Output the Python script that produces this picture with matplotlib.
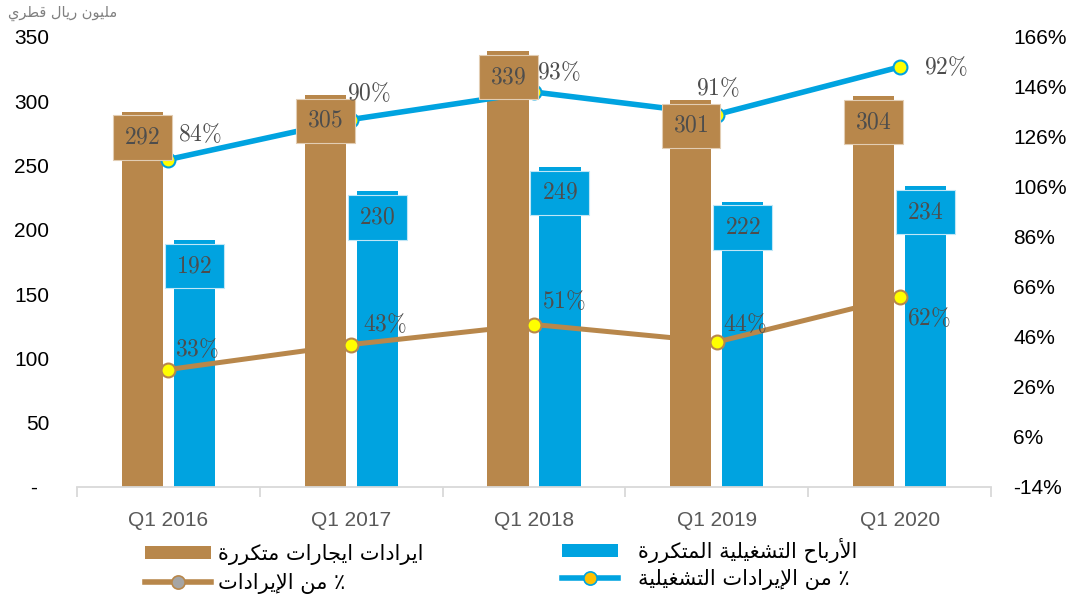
import numpy as np
import matplotlib
matplotlib.use("Agg")
import matplotlib.pyplot as plt
from matplotlib.patches import Patch
from matplotlib.lines import Line2D

plt.rcParams['font.family'] = ['Liberation Sans', 'DejaVu Sans']
plt.rcParams['mathtext.fontset'] = 'cm'

# ---------------- data ----------------
categories = ['Q1 2016', 'Q1 2017', 'Q1 2018', 'Q1 2019', 'Q1 2020']
rental_revenue = [292, 305, 339, 301, 304]          # ايرادات ايجارات متكررة
operating_profit = [192, 230, 249, 222, 234]        # الأرباح التشغيلية المتكررة
pct_of_revenue = [33, 43, 51, 44, 62]               # ٪ من الإيرادات
pct_of_operating_revenue = [84, 90, 93, 91, 92]     # ٪ من الإيرادات التشغيلية (stacked line)

left_ticks = [0, 50, 100, 150, 200, 250, 300, 350]
right_ticks = [-14, 6, 26, 46, 66, 86, 106, 126, 146, 166]

unit_label = 'مليون ريال قطري'
legend_labels = ['ايرادات ايجارات متكررة', '٪ من الإيرادات',
                 'الأرباح التشغيلية المتكررة', '٪ من الإيرادات التشغيلية']

# ---------------- arabic shaping (presentation forms, visual order) ----------------
FORMS = {
    '\u0627': ('\uFE8D', '\uFE8E', None, None),
    '\u0623': ('\uFE83', '\uFE84', None, None),
    '\u0625': ('\uFE87', '\uFE88', None, None),
    '\u0628': ('\uFE8F', '\uFE90', '\uFE91', '\uFE92'),
    '\u0629': ('\uFE93', '\uFE94', None, None),
    '\u062A': ('\uFE95', '\uFE96', '\uFE97', '\uFE98'),
    '\u062C': ('\uFE9D', '\uFE9E', '\uFE9F', '\uFEA0'),
    '\u062D': ('\uFEA1', '\uFEA2', '\uFEA3', '\uFEA4'),
    '\u062F': ('\uFEA9', '\uFEAA', None, None),
    '\u0631': ('\uFEAD', '\uFEAE', None, None),
    '\u0634': ('\uFEB5', '\uFEB6', '\uFEB7', '\uFEB8'),
    '\u0637': ('\uFEC1', '\uFEC2', '\uFEC3', '\uFEC4'),
    '\u063A': ('\uFECD', '\uFECE', '\uFECF', '\uFED0'),
    '\u0642': ('\uFED5', '\uFED6', '\uFED7', '\uFED8'),
    '\u0643': ('\uFED9', '\uFEDA', '\uFEDB', '\uFEDC'),
    '\u0644': ('\uFEDD', '\uFEDE', '\uFEDF', '\uFEE0'),
    '\u0645': ('\uFEE1', '\uFEE2', '\uFEE3', '\uFEE4'),
    '\u0646': ('\uFEE5', '\uFEE6', '\uFEE7', '\uFEE8'),
    '\u0648': ('\uFEED', '\uFEEE', None, None),
    '\u064A': ('\uFEF1', '\uFEF2', '\uFEF3', '\uFEF4'),
}
LAM_ALEF = {'\u0622': ('\uFEF5', '\uFEF6'), '\u0623': ('\uFEF7', '\uFEF8'),
            '\u0625': ('\uFEF9', '\uFEFA'), '\u0627': ('\uFEFB', '\uFEFC')}


def shape(text):
    toks = []
    i = 0
    while i < len(text):
        c = text[i]
        if c == '\u0644' and i + 1 < len(text) and text[i + 1] in LAM_ALEF:
            toks.append(('LA', text[i + 1]))
            i += 2
        else:
            toks.append(('C', c))
            i += 1

    def joins_next(t):
        if t[0] == 'LA':
            return False
        f = FORMS.get(t[1])
        return f is not None and f[2] is not None

    def is_ar(t):
        return t[0] == 'LA' or t[1] in FORMS

    out = []
    for j, t in enumerate(toks):
        prev_ok = j > 0 and joins_next(toks[j - 1]) and is_ar(t)
        if t[0] == 'LA':
            out.append(LAM_ALEF[t[1]][1 if prev_ok else 0])
            continue
        f = FORMS.get(t[1])
        if f is None:
            out.append(t[1])
            continue
        next_ok = f[2] is not None and j + 1 < len(toks) and is_ar(toks[j + 1])
        if prev_ok and next_ok:
            out.append(f[3])
        elif prev_ok:
            out.append(f[1])
        elif next_ok:
            out.append(f[2])
        else:
            out.append(f[0])
    return ''.join(reversed(out))


# ---------------- style ----------------
BROWN = '#B8874B'
BLUE = '#00A3E0'
YELLOW = '#FFFF00'
LABEL_GRAY = '#4D4D4D'
AXIS_GRAY = '#D9D9D9'

W, H = 1066, 600
fig = plt.figure(figsize=(W / 100, H / 100), dpi=100)
ax = fig.add_axes([77 / W, 113 / H, 914 / W, 450 / H])

x = np.arange(len(categories))
bw = 0.225
off = 0.142
ax.bar(x - off, rental_revenue, width=bw, color=BROWN, zorder=1)
ax.bar(x + off, operating_profit, width=bw, color=BLUE, zorder=1)

ax.set_xlim(-0.5, len(categories) - 0.5)
ax.set_ylim(0, 350)
for s in ['top', 'left', 'right']:
    ax.spines[s].set_visible(False)
ax.spines['bottom'].set_color(AXIS_GRAY)
ax.spines['bottom'].set_linewidth(1.3)

ax.set_xticks(np.arange(-0.5, len(categories), 1.0))
ax.set_xticklabels([])
ax.tick_params(axis='x', which='major', length=7, width=1.3, color=AXIS_GRAY)
ax.set_xticks(x, minor=True)
ax.set_xticklabels(categories, minor=True)
ax.tick_params(axis='x', which='minor', length=0, pad=17, labelsize=15, labelcolor='#595959')

ax.set_yticks(left_ticks)
ax.set_yticklabels(['-  ' if v == 0 else str(v) for v in left_ticks])
ax.tick_params(axis='y', length=0, pad=20, labelsize=15, labelcolor='#000000')

ax2 = ax.twinx()
ax2.set_ylim(-14, 166)
ax2.set_yticks(right_ticks)
ax2.set_yticklabels([f'{v}%' for v in right_ticks])
ax2.tick_params(axis='y', length=0, pad=16, labelsize=15, labelcolor='#000000')
for s in ax2.spines.values():
    s.set_visible(False)

stacked = np.add(pct_of_revenue, pct_of_operating_revenue)
ax2.plot(x, pct_of_revenue, color=BROWN, lw=3.6, marker='o', ms=10,
         mfc=YELLOW, mec=BROWN, mew=1.5, zorder=2, solid_capstyle='round')
ax2.plot(x, stacked, color=BLUE, lw=4.0, marker='o', ms=10,
         mfc=YELLOW, mec=BLUE, mew=1.5, zorder=2, solid_capstyle='round')

# bar value labels (boxed, over the lines)
for xi, v in zip(x, rental_revenue):
    ax2.annotate(f'${v}$', xy=(xi - off, v), xycoords=ax.transData,
                 xytext=(0, -26), textcoords='offset pixels', ha='center', va='center',
                 fontsize=17, color=LABEL_GRAY, zorder=5,
                 bbox=dict(boxstyle='square,pad=0.48', fc=BROWN, ec='#E2CDB3', lw=0.8))
for xi, v in zip(x, operating_profit):
    ax2.annotate(f'${v}$', xy=(xi + off, v), xycoords=ax.transData,
                 xytext=(0, -26), textcoords='offset pixels', ha='center', va='center',
                 fontsize=17, color=LABEL_GRAY, zorder=5,
                 bbox=dict(boxstyle='square,pad=0.48', fc=BLUE, ec='#BFE6F6', lw=0.8))

# line labels
blue_offsets = [(10, 25), (-4, 26), (3, 20), (-21, 26), (24, 0)]
brown_offsets = [(7, 20), (12, 20), (8, 23), (6, 18), (7, -21)]
for xi, yv, p, (dx, dy) in zip(x, stacked, pct_of_operating_revenue, blue_offsets):
    ax2.annotate(f'${p}\\%$', xy=(xi, yv), xytext=(dx, dy), textcoords='offset pixels',
                 ha='left', va='center', fontsize=17, color=LABEL_GRAY, zorder=6)
for xi, yv, p, (dx, dy) in zip(x, pct_of_revenue, pct_of_revenue, brown_offsets):
    ax2.annotate(f'${p}\\%$', xy=(xi, yv), xytext=(dx, dy), textcoords='offset pixels',
                 ha='left', va='center', fontsize=17, color=LABEL_GRAY, zorder=6)

# unit label
fig.text(8 / W, 1 - 13 / H, shape(unit_label), fontsize=10.5, color='#808080',
         ha='left', va='center', family=['DejaVu Sans'])

# legends
h_rev = Patch(fc=BROWN, ec='none')
h_rev_pct = Line2D([], [], color=BROWN, lw=4, marker='o', ms=9.5, mfc='#A5A5A5', mec=BROWN, mew=1.2)
h_op = Patch(fc=BLUE, ec='none')
h_op_pct = Line2D([], [], color=BLUE, lw=4, marker='o', ms=9.5, mfc='#FFC000', mec=BLUE, mew=1.2)

fig.legend([h_rev, h_rev_pct], [shape(legend_labels[0]), shape(legend_labels[1])],
           loc='center left', bbox_to_anchor=(145 / W, 1 - 569 / H), frameon=False,
           prop={'family': 'DejaVu Sans', 'size': 15}, handlelength=3.15, handleheight=0.58,
           handletextpad=0.34, labelspacing=0.42, borderpad=0, borderaxespad=0)
fig.legend([h_op, h_op_pct], [shape(legend_labels[2]), shape(legend_labels[3])],
           loc='center left', bbox_to_anchor=(562 / W, 1 - 564 / H), frameon=False,
           prop={'family': 'DejaVu Sans', 'size': 15}, handlelength=2.7, handleheight=0.55,
           handletextpad=0.96, labelspacing=0.28, borderpad=0, borderaxespad=0)

fig.savefig('out.png', dpi=100)
